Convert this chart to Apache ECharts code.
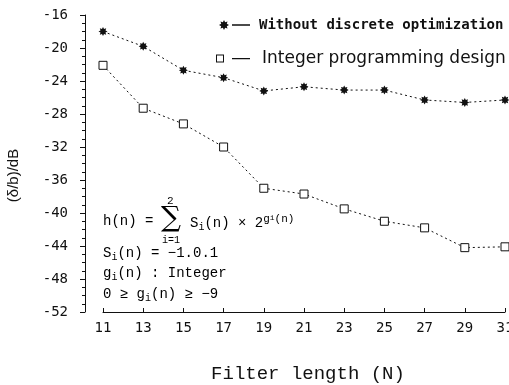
<!DOCTYPE html>
<html>
<head>
<meta charset="utf-8">
<script src="https://cdn.jsdelivr.net/npm/echarts@6/dist/echarts.min.js"></script>
<style>
  html, body { margin: 0; padding: 0; background: #fff; }
  #chart { width: 509px; height: 385px; }
</style>
</head>
<body>
<div id="chart"></div>
<script>
// filter lengths (x axis)
const filterLength = [11, 13, 15, 17, 19, 21, 23, 25, 27, 29, 31];
// (delta/b)/dB
const withoutDiscrete = [-18.0, -19.8, -22.7, -23.6, -25.2, -24.7, -25.1, -25.1, -26.3, -26.6, -26.3];
const integerProg = [-22.1, -27.3, -29.2, -32.0, -37.0, -37.7, -39.5, -41.0, -41.8, -44.2, -44.1];

const NAME_A = "Without discrete optimization";
const NAME_B = "Integer programming design";

// asterisk-like star marker
const STAR = "path://M10 0 L12.3 4.46 L17.07 2.93 L15.54 7.7 L20 10 L15.54 12.3 L17.07 17.07 L12.3 15.54 L10 20 L7.7 15.54 L2.93 17.07 L4.46 12.3 L0 10 L4.46 7.7 L2.93 2.93 L7.7 4.46 Z";
// legend icons: marker on the left, short line on the right
const ICON_A = "path://M10 0 L12.3 4.46 L17.07 2.93 L15.54 7.7 L20 10 L15.54 12.3 L17.07 17.07 L12.3 15.54 L10 20 L7.7 15.54 L2.93 17.07 L4.46 12.3 L0 10 L4.46 7.7 L2.93 2.93 L7.7 4.46 Z M26 8.6 H62 V11.4 H26 Z";
const ICON_B = "path://M0 0 H16 V16 H0 Z M2 2 V14 H14 V2 Z M32 7 H68 V9.6 H32 Z";

const pair = (ys) => filterLength.map((x, i) => [x, ys[i]]);

const chart = echarts.init(document.getElementById("chart"), null, { renderer: "canvas" });

const mono = "'Liberation Mono', monospace";
const ink = "#000";
const rich = {
  m: { fontFamily: mono, fontSize: 14, lineHeight: 18, color: ink },
  sub: { fontFamily: mono, fontSize: 10, lineHeight: 10, verticalAlign: "bottom", color: ink },
  sup: { fontFamily: mono, fontSize: 11, lineHeight: 11, verticalAlign: "top", color: ink },
  supsub: { fontFamily: mono, fontSize: 8, lineHeight: 16, verticalAlign: "top", color: ink }
};

chart.setOption({
  animation: false,
  backgroundColor: "#fff",
  // keep the plot box fixed, labels may touch the window edge like in the scan
  grid: { left: 103, right: 4, top: 15, bottom: 73, outerBoundsMode: "none" },
  legend: [
    {
      data: [{ name: NAME_A, icon: ICON_A, itemStyle: { color: "#111", borderWidth: 0 } }],
      left: 219, top: 18, padding: 0,
      itemWidth: 31, itemHeight: 10,
      textStyle: { fontFamily: "'DejaVu Sans Mono', monospace", fontSize: 14, fontWeight: "bold", color: "#111", padding: [0, 0, 0, 4] },
      selectedMode: false
    },
    {
      data: [{ name: NAME_B, icon: ICON_B, itemStyle: { color: "#111", borderWidth: 0 } }],
      left: 216, top: 50, padding: 0,
      itemWidth: 34, itemHeight: 8,
      textStyle: { fontFamily: "'DejaVu Sans', sans-serif", fontSize: 17, color: "#111", padding: [0, 0, 0, 7] },
      selectedMode: false
    }
  ],
  xAxis: {
    type: "value",
    min: 11, max: 31, interval: 2,
    name: "Filter length (N)",
    nameLocation: "middle",
    nameGap: 52,
    nameTextStyle: { fontFamily: mono, fontSize: 19, color: "#111", padding: [0, 0, 0, 8] },
    axisLine: { lineStyle: { color: "#111", width: 1 } },
    axisTick: { inside: true, length: 4, lineStyle: { color: "#111" } },
    axisLabel: { margin: 9, fontFamily: "'DejaVu Sans Mono', monospace", fontSize: 14, color: "#111" },
    splitLine: { show: false }
  },
  yAxis: {
    type: "value",
    min: -52, max: -16, interval: 4,
    offset: 18,
    name: "(\u03b4/b)/dB",
    nameLocation: "middle",
    nameGap: 64,
    nameTextStyle: { fontFamily: "'Liberation Sans', sans-serif", fontSize: 15, color: "#111", padding: [0, 24, 0, 0] },
    axisLine: { show: true, lineStyle: { color: "#111", width: 1 } },
    axisTick: { show: true, length: 5, lineStyle: { color: "#111" } },
    minorTick: { show: true, splitNumber: 4, length: 3, lineStyle: { color: "#111" } },
    axisLabel: { margin: 17, fontFamily: "'DejaVu Sans Mono', monospace", fontSize: 14, color: "#111" },
    splitLine: { show: false }
  },
  series: [
    {
      name: NAME_A,
      type: "line",
      data: pair(withoutDiscrete),
      symbol: STAR,
      symbolSize: 9,
      itemStyle: { color: "#111" },
      lineStyle: { color: "#111", width: 1, type: [2, 3] }
    },
    {
      name: NAME_B,
      type: "line",
      data: pair(integerProg),
      symbol: "rect",
      symbolSize: 8,
      itemStyle: { color: "#fff", borderColor: "#111", borderWidth: 1 },
      lineStyle: { color: "#111", width: 1, type: [2, 3] }
    }
  ],
  graphic: [
    { type: "text", left: 103, top: 214, style: { text: "{m|h(n) =}", rich } },
    { type: "text", left: 161, top: 205, style: { text: "\u2211", font: "28px 'DejaVu Serif', serif", fill: ink } },
    { type: "text", left: 167, top: 196, style: { text: "2", font: "11px 'Liberation Mono', monospace", fill: ink } },
    { type: "text", left: 162, top: 235, style: { text: "i=1", font: "10px 'Liberation Mono', monospace", fill: ink } },
    { type: "text", left: 190, top: 214, style: { text: "{m|S}{sub|i}{m|(n) \u00d7 2}{sup|g}{supsub|i}{sup|(n)}", rich } },
    { type: "text", left: 103, top: 246, style: { text: "{m|S}{sub|i}{m|(n) = \u22121.0.1}", rich } },
    { type: "text", left: 103, top: 266, style: { text: "{m|g}{sub|i}{m|(n) : Integer}", rich } },
    { type: "text", left: 103, top: 287, style: { text: "{m|0 \u2265 g}{sub|i}{m|(n) \u2265 \u22129}", rich } }
  ]
});
</script>
</body>
</html>
